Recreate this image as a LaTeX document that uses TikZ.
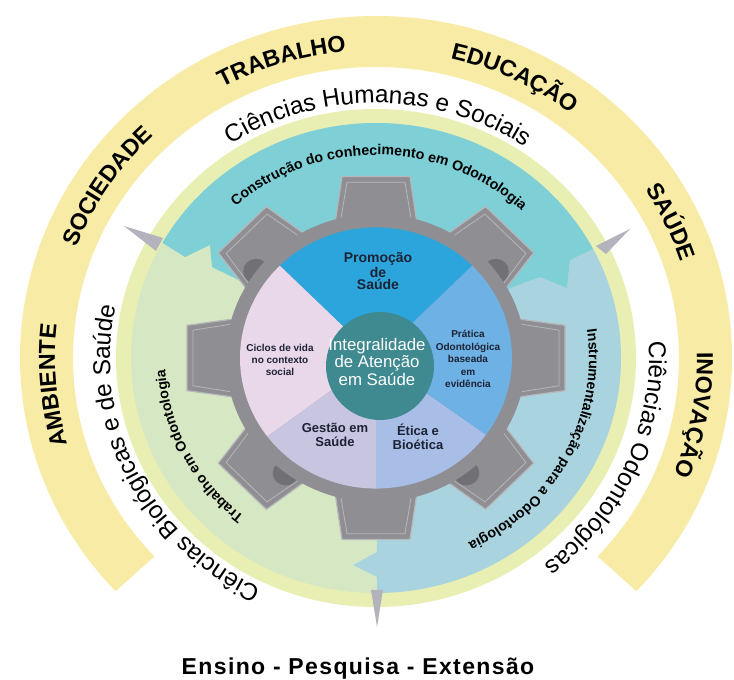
\documentclass[tikz,border=0pt]{standalone}
\usepackage{fontspec}
\setmainfont{Liberation Sans}
\usetikzlibrary{decorations.text}

\definecolor{ringyellow}{HTML}{F8EBA5}
\definecolor{ringlime}{HTML}{E9EFB2}
\definecolor{sectteal}{HTML}{7ECFD6}
\definecolor{sectgreen}{HTML}{D5E8C3}
\definecolor{sectblue}{HTML}{A9D4DF}
\definecolor{gearfill}{HTML}{8E8E93}
\definecolor{gearedge}{HTML}{B7B7BB}
\definecolor{gearshade}{HTML}{707075}
\definecolor{pointer}{HTML}{B3B3BD}
\definecolor{piepromo}{HTML}{2CA5DD}
\definecolor{piepratica}{HTML}{6EB1E4}
\definecolor{pieetica}{HTML}{A8BEE6}
\definecolor{piegestao}{HTML}{C8C5E1}
\definecolor{pieciclos}{HTML}{E9D7EA}
\definecolor{hubteal}{HTML}{3F8990}
\definecolor{inktext}{HTML}{1D2335}

\newcommand{\ringfont}{\fontsize{11.6}{14}\selectfont\bfseries}
\newcommand{\bandfont}{\fontsize{12.2}{15}\selectfont}
\newcommand{\sectfont}{\fontsize{7.1}{9}\selectfont\bfseries}

\begin{document}
\begin{tikzpicture}[x=1pt, y=1pt, scale=0.5]
    \tikzstyle{every node} = [inner sep=0pt, align=center, text=inktext]
    \tikzstyle{tooth} = [fill=gearfill, draw=gearedge, line width=0.6pt]
    \tikzstyle{toothline} = [draw=gearedge, line width=0.4pt]
    \tikzstyle{wedge} = [fill=pointer]

    \useasboundingbox (0,0) rectangle (734,680);

    \begin{scope}[shift={(376,322)}]
        \fill[ringyellow] (-43:356 and 342) arc[start angle=-43, end angle=223, x radius=356, y radius=342]
            -- (223:303 and 291) arc[start angle=223, end angle=-43, x radius=303, y radius=291] -- cycle;
        \fill[ringlime] (0,0) ellipse [x radius=260, y radius=249];
    \end{scope}

    \begin{scope}
        \clip (376,322) ellipse [x radius=245, y radius=235];
        \fill[sectgreen] (100,50) rectangle (660,600);
        \fill[sectblue] (376,322) -- (513,393) -- (540,403) -- (567,392) -- (570,420) -- (597,433)
            -- (700,490) -- (760,490) -- (760,-20) -- (377,-20) -- (377,103) -- (353,115) -- (377,128) -- cycle;
        \fill[sectteal] (376,322) -- (253,393) -- (212,413) -- (210,435) -- (185,423) -- (158,440)
            -- (90,480) -- (90,700) -- (700,700) -- (700,490) -- (597,433) -- (570,420) -- (567,392)
            -- (540,403) -- (513,393) -- cycle;
    \end{scope}

    \fill[wedge] (124,454) -- (163,442) -- (156,429) -- cycle;
    \fill[wedge] (630,451) -- (596,434) -- (606,426) -- cycle;
    \fill[wedge] (377,53) -- (371,90) -- (383,90) -- cycle;

    \begin{scope}[shift={(376,322)}, yscale=0.96]
        \foreach \a in {0,45,...,315} {
            \filldraw[tooth, rotate=\a] (140,-41) -- (189,-34) -- (189,34) -- (140,41) -- cycle;
            \draw[toothline, rotate=\a] (146,-35) -- (183,-29) -- (183,29) -- (146,35);
        }
        \foreach \a in {37,143,233,307}
            \fill[gearshade] (\a:150) circle (13);
        \fill[gearfill] (0,0) circle (150);

        \fill[piepromo] (0,0) -- (45:136) arc[start angle=45, end angle=135, radius=136] -- cycle;
        \fill[pieciclos] (0,0) -- (135:136) arc[start angle=135, end angle=217, radius=136] -- cycle;
        \fill[piegestao] (0,0) -- (217:136) arc[start angle=217, end angle=270, radius=136] -- cycle;
        \fill[pieetica] (0,0) -- (270:136) arc[start angle=270, end angle=324, radius=136] -- cycle;
        \fill[piepratica] (0,0) -- (324:136) arc[start angle=324, end angle=405, radius=136] -- cycle;
    \end{scope}

    \fill[hubteal] (380,314) circle (54);

    \node (promo) at (378,409) [font={\fontsize{7}{6.3}\selectfont\bfseries}] {Promoção\\de\\Saúde};
    \node (ciclos) at (280,320) [font={\fontsize{5}{5.8}\selectfont\bfseries}] {Ciclos de vida\\no contexto\\social};
    \node (pratica) at (468,321) [font={\fontsize{5}{6.2}\selectfont\bfseries}] {Prática\\Odontológica\\baseada\\em\\evidência};
    \node (gestao) at (335,245) [font={\fontsize{6.5}{7.3}\selectfont\bfseries}] {Gestão em\\Saúde};
    \node (etica) at (418,243) [font={\fontsize{6.5}{7.3}\selectfont\bfseries}] {Ética e\\Bioética};
    \node (hub) at (377,318) [text=white, font={\fontsize{8.4}{7.7}\selectfont}] {Integralidade\\de Atenção\\em Saúde};

    \begin{scope}[shift={(376,322)}]
        \path[decorate, decoration={text along path, text align=center, text={|\ringfont|TRABALHO}}]
            (127:321 and 308) arc[start angle=127, end angle=87, x radius=321, y radius=308];
        \path[decorate, decoration={text along path, text align=center, text={|\ringfont|EDUCAÇÃO}}]
            (85:321 and 308) arc[start angle=85, end angle=44, x radius=321, y radius=308];
        \path[decorate, decoration={text along path, text align=center, text={|\ringfont|SOCIEDADE}}]
            (168:321 and 308) arc[start angle=168, end angle=125, x radius=321, y radius=308];
        \path[decorate, decoration={text along path, text align=center, text={|\ringfont|SAÚDE}}]
            (42:321 and 308) arc[start angle=42, end angle=9, x radius=321, y radius=308];
        \path[decorate, decoration={text along path, text align=center, text={|\ringfont|AMBIENTE}}]
            (207:321 and 308) arc[start angle=207, end angle=163, x radius=321, y radius=308];
        \path[decorate, decoration={text along path, text align=center, text={|\ringfont|INOVAÇÃO}}]
            (10:321 and 308) arc[start angle=10, end angle=-31, x radius=321, y radius=308];

        \path[decorate, decoration={text along path, text align=center, text={|\bandfont|Ciências Humanas e Sociais}}]
            (140:266 and 255) arc[start angle=140, end angle=39, x radius=266, y radius=255];
        \path[decorate, decoration={text along path, text align=center, text={|\bandfont|Ciências Biológicas e de Saúde}}]
            (262:266 and 255) arc[start angle=262, end angle=150, x radius=266, y radius=255];
        \path[decorate, decoration={text along path, text align=center, text={|\bandfont|Ciências Odontológicas}}]
            (18:273 and 262) arc[start angle=18, end angle=-66, x radius=273, y radius=262];

        \path[decorate, decoration={text along path, text align=center, text={|\sectfont|Construção do conhecimento em Odontologia}}]
            (152:211 and 203) arc[start angle=152, end angle=26, x radius=211, y radius=203];
        \path[decorate, decoration={text along path, text align=center, text={|\sectfont|Trabalho em Odontologia}}]
            (252:211 and 203) arc[start angle=252, end angle=162, x radius=211, y radius=203];
        \path[decorate, decoration={text along path, text align=center, text={|\sectfont|Instrumentalização para a Odontologia}}]
            (22:213 and 205) arc[start angle=22, end angle=-78, x radius=213, y radius=205];
    \end{scope}

    \node (base) at (358,5) [anchor=base, text=black, font={\fontsize{11.5}{13}\selectfont\bfseries\addfontfeature{LetterSpace=6}}] {Ensino - Pesquisa - Extensão};
\end{tikzpicture}
\end{document}
